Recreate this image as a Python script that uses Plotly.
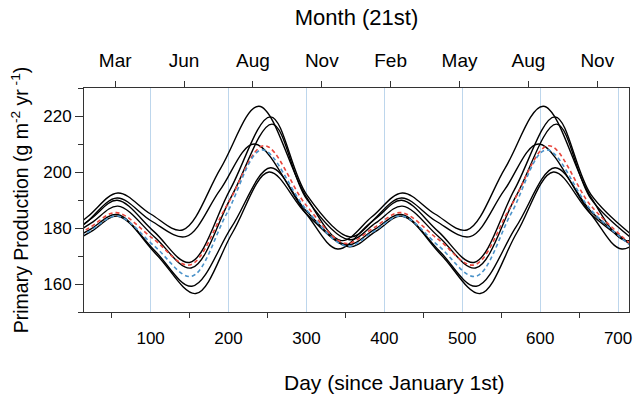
import plotly.graph_objects as go

# ---- data (day of record, primary production) ----
c1_day = [-20, 19, 58, 100, 141, 190, 239, 300, 345, 384, 423, 465, 506, 555, 604, 665, 710, 749]
c1_val = [175.5, 184.0, 192.5, 185.0, 179.3, 201.4, 223.5, 191.0, 175.5, 184.0, 192.5, 185.0, 179.3, 201.4, 223.5, 191.0, 175.5, 184.0]

c2_day = [-25, 16, 57, 101, 145, 189, 233, 300, 340, 381, 422, 466, 510, 554, 598, 665, 705, 746]
c2_val = [172.5, 181.6, 190.7, 182.5, 176.9, 193.5, 210.0, 185.0, 172.5, 181.6, 190.7, 182.5, 176.9, 193.5, 210.0, 185.0, 172.5, 181.6]

c3_day = [-9, 24, 57, 104, 150, 202, 254, 300, 356, 389, 422, 469, 515, 567, 619, 665, 721]
c3_val = [176.8, 183.4, 189.9, 178.8, 167.7, 193.7, 219.7, 192.0, 176.8, 183.4, 189.9, 178.8, 167.7, 193.7, 219.7, 192.0, 176.8]

c4_day = [-10, 24, 58, 105, 152, 204, 256, 300, 355, 389, 423, 470, 517, 569, 621, 665, 720]
c4_val = [175.8, 181.8, 187.8, 176.8, 165.7, 191.4, 217.1, 190.5, 175.8, 181.8, 187.8, 176.8, 165.7, 191.4, 217.1, 190.5, 175.8]

c5_day = [-13, 22, 57, 105, 153, 204, 254, 300, 352, 387, 422, 470, 518, 569, 619, 665, 717]
c5_val = [174.0, 179.4, 184.8, 172.0, 159.2, 180.4, 201.5, 186.0, 174.0, 179.4, 184.8, 172.0, 159.2, 180.4, 201.5, 186.0, 174.0]

c6_day = [-10, 24, 58, 108, 158, 205, 252, 300, 355, 389, 423, 473, 523, 570, 617, 665, 720]
c6_val = [173.3, 178.8, 184.2, 170.4, 156.6, 178.3, 200.0, 185.0, 173.3, 178.8, 184.2, 170.4, 156.6, 178.3, 200.0, 185.0, 173.3]

red_day = [-15, 21, 56, 103, 150, 198, 246, 300, 350, 386, 421, 468, 515, 563, 611, 665, 715]
red_val = [174.5, 180.0, 185.5, 176.2, 166.8, 188.1, 209.4, 188.0, 174.5, 180.0, 185.5, 176.2, 166.8, 188.1, 209.4, 188.0, 174.5]

blue_day = [-13, 22, 57, 105, 152, 198, 243, 300, 352, 387, 422, 470, 517, 563, 608, 665, 717]
blue_val = [173.5, 178.9, 184.3, 173.5, 162.7, 185.3, 207.9, 186.5, 173.5, 178.9, 184.3, 173.5, 162.7, 185.3, 207.9, 186.5, 173.5]

month_days = [54.5, 142.9, 231.3, 319.7, 408.0, 496.5, 584.9, 673.3]
month_labels = ["Mar", "Jun", "Aug", "Nov", "Feb", "May", "Aug", "Nov"]

x_range = [14.5, 714]
y_range = [150, 230]

FONT = "Liberation Sans, Arial, Helvetica, sans-serif"
AX = "#333333"

fig = go.Figure()

for d, v in [(c1_day, c1_val), (c2_day, c2_val), (c3_day, c3_val),
             (c4_day, c4_val), (c5_day, c5_val), (c6_day, c6_val)]:
    fig.add_trace(go.Scatter(x=d, y=v, mode="lines",
                             line=dict(color="black", width=1.4, shape="spline", smoothing=1),
                             showlegend=False, hoverinfo="skip"))

fig.add_trace(go.Scatter(x=red_day, y=red_val, mode="lines",
                         line=dict(color="#e8453c", width=1.6, dash="4px,3px", shape="spline", smoothing=1),
                         showlegend=False, hoverinfo="skip"))
fig.add_trace(go.Scatter(x=blue_day, y=blue_val, mode="lines",
                         line=dict(color="#4a92c9", width=1.6, dash="4px,3px", shape="spline", smoothing=1),
                         showlegend=False, hoverinfo="skip"))

# invisible trace to host the top month axis
fig.add_trace(go.Scatter(x=month_days, y=[None] * len(month_days), xaxis="x2",
                         mode="lines", showlegend=False, hoverinfo="skip"))

fig.update_layout(
    width=635, height=395,
    margin=dict(l=84, r=3, t=88, b=83),
    paper_bgcolor="white", plot_bgcolor="white",
    font=dict(family=FONT, size=17, color="black"),
    xaxis=dict(
        range=x_range, showline=True, linecolor=AX, linewidth=1, mirror=True,
        showgrid=True, gridcolor="#bdd6ec", gridwidth=1, zeroline=False,
        tick0=0, dtick=100, ticks="outside", ticklen=11, tickcolor="rgba(0,0,0,0)",
        tickfont=dict(size=17), ticklabeloverflow="allow",
        minor=dict(dtick=50, tick0=0, ticks="outside", ticklen=5, tickcolor=AX, showgrid=False),
    ),
    xaxis2=dict(
        overlaying="x", side="top", range=x_range, showline=False, showgrid=False,
        zeroline=False, tickvals=month_days, ticktext=month_labels,
        ticks="outside", ticklen=6, tickcolor=AX, tickfont=dict(size=19),
        ticklabelstandoff=6,
        title=dict(text="Month (21st)", font=dict(size=22), standoff=18),
    ),
    yaxis=dict(
        range=y_range, showline=True, linecolor=AX, linewidth=1, mirror=True,
        showgrid=False, zeroline=False, tickvals=[160, 180, 200, 220],
        ticks="outside", ticklen=8, tickcolor=AX, tickfont=dict(size=17),
        minor=dict(tick0=150, dtick=10, ticks="outside", ticklen=5, tickcolor=AX),
        title=dict(text="Primary Production (g m<sup>-2</sup> yr<sup> -1</sup>)",
                   font=dict(size=19.5), standoff=9),
    ),
    annotations=[dict(text="Day (since January 1st)", xref="paper", yref="paper",
                      x=0.569, y=-0.3125, xanchor="center", yanchor="middle",
                      showarrow=False, font=dict(size=21))],
)

fig.write_html("out.html")
